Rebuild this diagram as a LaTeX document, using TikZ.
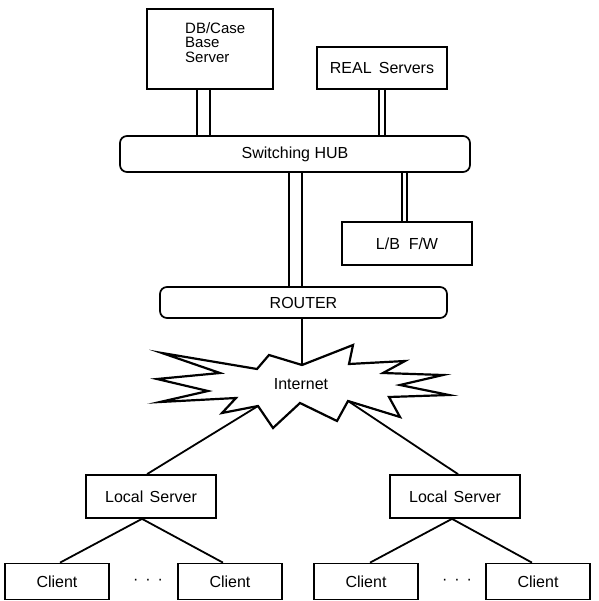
\documentclass[tikz,border=0pt]{standalone}
\usepackage{fontspec}
\setmainfont{Liberation Sans}
\usetikzlibrary{calc}
\begin{document}
\begin{tikzpicture}[x=1pt,y=-1pt,
  box/.style={draw, line width=1.7pt, rectangle, inner sep=0pt, font=\fontsize{16}{18}\selectfont},
  rbox/.style={box, rounded corners=7pt},
  link/.style={line width=1.5pt},
  wire/.style={line width=1.8pt},
  burst/.style={line width=2.2pt, line join=miter, miter limit=20}
]
\useasboundingbox (0,0) rectangle (598,601);

% top servers
\node[box, minimum width=126pt, minimum height=80pt] (db) at (210,49) {};
\node[font=\fontsize{15}{14.5}\selectfont, align=left, anchor=north west, inner sep=0pt] (dbtext) at (185,22) {DB/Case\\Base\\Server};
\node[box, minimum width=130pt, minimum height=42pt] (real) at (382,68) {REAL\hspace{0.45em}Servers};

% hub
\node[rbox, minimum width=350pt, minimum height=36pt] (hub) at (295,154) {Switching HUB};

% L/B F/W
\node[box, minimum width=130pt, minimum height=43pt] (lb) at (407,243.5) {L/B\hspace{0.55em}F/W};

% router
\node[rbox, minimum width=287pt, minimum height=31pt] (router) at (303.5,302.5) {ROUTER};

% double connectors
\draw[link] (db.south -| 197,0) -- (hub.north -| 197,0);
\draw[link] (db.south -| 210,0) -- (hub.north -| 210,0);
\draw[link] (real.south -| 379,0) -- (hub.north -| 379,0);
\draw[link] (real.south -| 385,0) -- (hub.north -| 385,0);
\draw[link] (hub.south -| 289,0) -- (router.north -| 289,0);
\draw[link] (hub.south -| 302,0) -- (router.north -| 302,0);
\draw[link] (hub.south -| 402,0) -- (lb.north -| 402,0);
\draw[link] (hub.south -| 407,0) -- (lb.north -| 407,0);

% Internet burst
\coordinate (vT) at (302,365);
\coordinate (vR) at (348,401);
\coordinate (vL) at (258,406);
\draw[burst] (vT) -- (353,345) -- (349,364) -- (405,361) -- (383,373) -- (443,375)
  -- (400,385) -- (449,395) -- (389,397) -- (400,417) -- (vR) -- (337,421)
  -- (300,403) -- (273,428) -- (vL) -- (222,413) -- (236,398) -- (160,402)
  -- (208,391) -- (157,379) -- (220,373) -- (162,353) -- (257,369) -- (269,355) -- cycle;
\node[font=\fontsize{16}{18}\selectfont] (inet) at (301,384) {Internet};
\draw[wire] (router.south -| vT) -- (vT);

% local servers
\node[box, minimum width=130pt, minimum height=43pt] (lsL) at (151,496.5) {Local\hspace{0.4em}Server};
\node[box, minimum width=130pt, minimum height=43pt] (lsR) at (455,496.5) {Local\hspace{0.4em}Server};
\draw[wire] (vL) -- (lsL.north -| 147,0);
\draw[wire] (vR) -- (lsR.north -| 458,0);

% clients
\node[box, minimum width=104pt, minimum height=36pt] (c1) at (57,581.5) {Client};
\node[box, minimum width=104pt, minimum height=36pt] (c2) at (230,581.5) {Client};
\node[box, minimum width=104pt, minimum height=36pt] (c3) at (366,581.5) {Client};
\node[box, minimum width=104pt, minimum height=36pt] (c4) at (538,581.5) {Client};
\node[font=\fontsize{16}{18}\selectfont, inner sep=0pt] (dotsL) at (148,582) {·\hspace{7pt}·\hspace{7pt}·};
\node[font=\fontsize{16}{18}\selectfont, inner sep=0pt] (dotsR) at (457,582) {·\hspace{7pt}·\hspace{7pt}·};

\draw[wire] (lsL.south -| 142,0) -- (c1.north -| 60,0);
\draw[wire] (lsL.south -| 142,0) -- (c2.north -| 223,0);
\draw[wire] (lsR.south -| 452,0) -- (c3.north -| 370,0);
\draw[wire] (lsR.south -| 452,0) -- (c4.north -| 532,0);
\end{tikzpicture}
\end{document}
